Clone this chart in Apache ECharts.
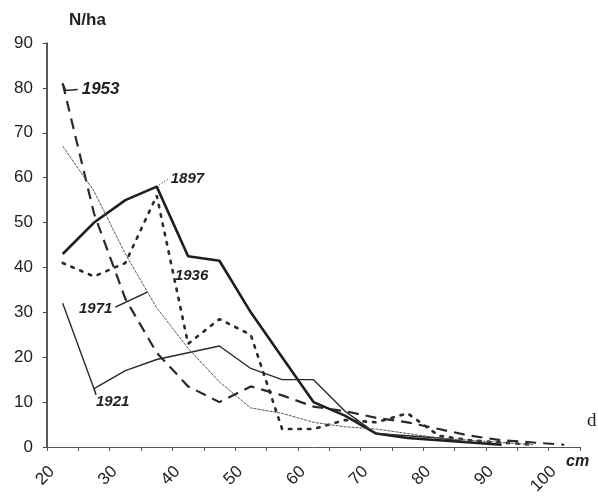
<!DOCTYPE html>
<html>
<head>
<meta charset="utf-8">
<script src="https://cdn.jsdelivr.net/npm/echarts@6/dist/echarts.min.js"></script>
<style>
html,body{margin:0;padding:0;background:#fff;}
#chart{width:598px;height:498px;}
</style>
</head>
<body>
<div id="chart"></div>
<script>
// Diameter class midpoints (cm)
var diameters = [22.5, 27.5, 32.5, 37.5, 42.5, 47.5, 52.5, 57.5, 62.5, 67.5, 72.5, 77.5, 82.5, 87.5, 92.5, 97.5, 102.5];
// Stems per hectare for each survey year
var y1897 = [43, 50, 55, 58, 42.5, 41.5, 30, 20, 10, 7, 3, 2, 1.5, 1, 0.5, null, null];
var y1921 = [32, 13, 17, 19.5, 21, 22.5, 17.5, 15, 15, 8, 3, 2.5, 2, 1, null, null, null];
var y1936 = [41, 38, 41, 56, 23, 28.5, 25, 4, 4, 6, 5.5, 7.5, 2.5, 1.5, 1, 0.5, null];
var y1953 = [81, 52, 33, 21, 13.5, 10, 13.5, 11.5, 9, 8, 6.5, 5.5, 4, 2.5, 1.5, 1, 0.5];
var y1971 = [67, 57, 43, 31, 22, 14.5, 8.7, 7.5, 5.5, 4.5, 4, 3, 2, 1.5, 1, 0.5, null];
var xTicks = [20, 30, 40, 50, 60, 70, 80, 90, 100];
var yTicks = [0, 10, 20, 30, 40, 50, 60, 70, 80, 90];

function pairs(ys) {
  var out = [];
  for (var i = 0; i < diameters.length; i++) {
    if (ys[i] !== null) out.push([diameters[i], ys[i]]);
  }
  return out;
}

var chart = echarts.init(document.getElementById('chart'), null, {renderer: 'canvas'});
var ink = '#222';
var option = {
  backgroundColor: '#fff',
  animation: false,
  grid: {left: 47, right: 18, top: 43, bottom: 51, containLabel: false},
  xAxis: {
    type: 'value', min: 20, max: 105, interval: 5,
    axisLine: {show: true, lineStyle: {color: '#555', width: 1}},
    axisTick: {show: true, length: 4, lineStyle: {color: '#555'}},
    splitLine: {show: false},
    axisLabel: {
      rotate: 45, margin: 27, fontSize: 17, color: ink, fontFamily: 'Liberation Sans, Arial',
      padding: [0, -7, 0, 0],
      formatter: function (v) { return xTicks.indexOf(v) >= 0 ? String(v) : ''; }
    }
  },
  yAxis: {
    type: 'value', min: 0, max: 90, interval: 10,
    name: 'N/ha', nameLocation: 'end', nameGap: 14,
    nameTextStyle: {fontSize: 17, fontWeight: 'bold', color: ink, fontFamily: 'Liberation Sans, Arial', align: 'left', padding: [0, 0, 0, 22]},
    axisLine: {show: true, lineStyle: {color: '#222', width: 1.5}},
    axisTick: {show: true, length: 4, lineStyle: {color: '#444'}},
    splitLine: {show: false},
    axisLabel: {
      margin: 14, fontSize: 17, color: ink, fontFamily: 'Liberation Sans, Arial',
      formatter: function (v) { return yTicks.indexOf(v) >= 0 ? String(v) : ''; }
    }
  },
  series: [
    {name: '1897', type: 'line', data: pairs(y1897), symbol: 'none', lineStyle: {color: '#1e1e1e', width: 2.6, type: 'solid'}},
    {name: '1921', type: 'line', data: pairs(y1921), symbol: 'none', lineStyle: {color: '#2a2a2a', width: 1.4, type: 'solid'}},
    {name: '1936', type: 'line', data: pairs(y1936), symbol: 'none', lineStyle: {color: '#2a2a2a', width: 2.6, type: [2.5, 7], cap: 'round'}},
    {name: '1953', type: 'line', data: pairs(y1953), symbol: 'none', lineStyle: {color: '#2a2a2a', width: 2.2, type: [11, 7]}},
    {name: '1971', type: 'line', data: pairs(y1971), symbol: 'none', lineStyle: {color: '#555', width: 1, type: [3, 1]}}
  ]
};
chart.setOption(option);

function px(x, y) { return chart.convertToPixel({gridIndex: 0}, [x, y]); }
var lblFont = 'italic bold 15px "Liberation Sans", Arial';
var a53 = px(22.5, 81), a97 = px(37.5, 58), a36 = px(40.4, 38.2), a71 = px(36, 34.5), a21 = px(27.5, 13);
var graphics = [
  {type: 'polyline', shape: {points: [[a53[0], a53[1]], [a53[0] + 3, a53[1] + 7], [a53[0] + 15, a53[1] + 6]]}, style: {stroke: ink, lineWidth: 1.5, fill: null}},
  {type: 'text', x: a53[0] + 19, y: a53[1] + 6, style: {text: '1953', font: 'italic bold 17px "Liberation Sans", Arial', fill: ink, textVerticalAlign: 'middle', verticalAlign: 'middle'}},
  {type: 'line', shape: {x1: a97[0], y1: a97[1], x2: a97[0] + 12, y2: a97[1] - 8}, style: {stroke: ink, lineWidth: 1, lineDash: [1, 2]}},
  {type: 'text', x: a97[0] + 14, y: a97[1] - 8, style: {text: '1897', font: lblFont, fill: ink, verticalAlign: 'middle', textVerticalAlign: 'middle'}},
  {type: 'text', x: a36[0], y: a36[1], style: {text: '1936', font: lblFont, fill: ink, verticalAlign: 'middle', textVerticalAlign: 'middle'}},
  {type: 'line', shape: {x1: a71[0], y1: a71[1], x2: a71[0] - 32, y2: a71[1] + 15}, style: {stroke: ink, lineWidth: 1.6}},
  {type: 'text', x: a71[0] - 35, y: a71[1] + 17, style: {text: '1971', font: lblFont, fill: ink, align: 'right', textAlign: 'right', verticalAlign: 'middle', textVerticalAlign: 'middle'}},
  {type: 'line', shape: {x1: a21[0], y1: a21[1], x2: a21[0] + 2, y2: a21[1] + 6}, style: {stroke: ink, lineWidth: 1.5}},
  {type: 'text', x: a21[0] + 2, y: a21[1] + 13, style: {text: '1921', font: lblFont, fill: ink, verticalAlign: 'middle', textVerticalAlign: 'middle'}},
  {type: 'text', x: 587, y: 421, style: {text: 'd', font: '19px "Liberation Serif", "Times New Roman", serif', fill: ink, verticalAlign: 'middle', textVerticalAlign: 'middle'}},
  {type: 'text', x: 566, y: 462, style: {text: 'cm', font: 'italic bold 16px "Liberation Sans", Arial', fill: ink, verticalAlign: 'middle', textVerticalAlign: 'middle'}}
];
chart.setOption({graphic: graphics});
</script>
</body>
</html>
